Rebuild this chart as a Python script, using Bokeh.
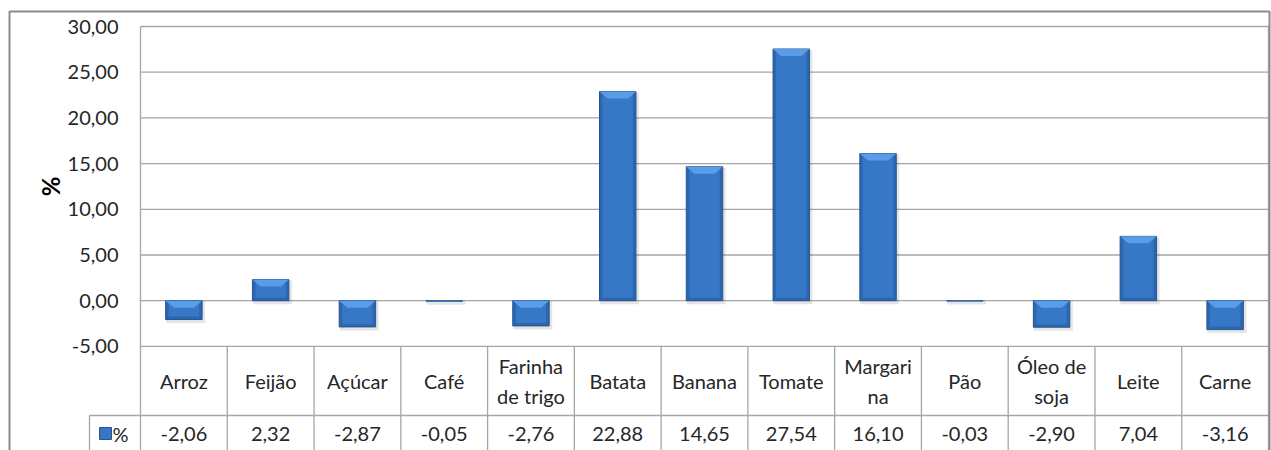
from bokeh.plotting import figure
from bokeh.models import Range1d, LinearAxis, FixedTicker, CustomJSTickFormatter
from bokeh.core.properties import value
from bokeh.embed import file_html
from bokeh.resources import INLINE

# ---------------- data ----------------
categories = ["Arroz", "Feijão", "Açúcar", "Café", "Farinha\nde trigo", "Batata", "Banana",
              "Tomate", "Margari\nna", "Pão", "Óleo de\nsoja", "Leite", "Carne"]
values = [-2.06, 2.32, -2.87, -0.05, -2.76, 22.88, 14.65, 27.54, 16.10, -0.03, -2.90, 7.04, -3.16]
y_ticks = [-5, 0, 5, 10, 15, 20, 25, 30]
series_name = "%"

# ---------------- geometry (pixels on canvas) ----------------
W, H = 1271, 450
plot_left_px, plot_right_px = 140, 1268
top_px = 26
ncat = len(categories)
xs = (plot_right_px - plot_left_px) / ncat      # px per category
ypx = 45.7 / 5                                   # px per y unit
x_start = -plot_left_px / xs
x_end = ncat + (W - plot_right_px) / xs
y_max, y_min = max(y_ticks), min(y_ticks)
y_end = y_max + top_px / ypx
y_start = y_max - (H - top_px) / ypx
row_split = y_max - (415 - top_px) / ypx
val_row_center = y_max - (433 - top_px) / ypx
cat_row_center = (y_min + row_split) / 2
key_left = -(plot_left_px - 89) / xs

FONT = "Lato"
TXT = "#262626"
GRID = "#a6a6a6"

p = figure(width=W, height=H, output_backend="svg", toolbar_location=None,
           x_range=Range1d(x_start, x_end), y_range=Range1d(y_start, y_end),
           min_border=0, min_border_left=0, min_border_right=0,
           min_border_top=0, min_border_bottom=0,
           x_axis_type=None, y_axis_type=None)
p.outline_line_color = None
p.xgrid.visible = False
p.ygrid.visible = False
p.background_fill_color = "white"
p.border_fill_color = "white"

# y axis placed at the left edge of the plot area
yaxis = LinearAxis(fixed_location=0, ticker=FixedTicker(ticks=y_ticks),
                   formatter=CustomJSTickFormatter(code="return tick.toFixed(2).replace('.', ',');"),
                   bounds=(y_min, y_max))
yaxis.axis_line_color = None
yaxis.major_tick_line_color = None
yaxis.minor_tick_line_color = None
yaxis.major_tick_out = 0
yaxis.major_tick_in = 0
yaxis.major_label_standoff = 22
yaxis.major_label_text_font = FONT
yaxis.major_label_text_font_size = "20px"
yaxis.major_label_text_color = TXT
yaxis.axis_label = series_name
yaxis.axis_label_text_font = FONT
yaxis.axis_label_text_font_size = "24px"
yaxis.axis_label_text_font_style = "bold"
yaxis.axis_label_text_color = "#000000"
yaxis.axis_label_standoff = 0
p.add_layout(yaxis, "left")

# gridlines
p.segment(x0=0, x1=ncat, y0=y_ticks, y1=y_ticks, line_color=GRID, line_width=1.3)

# bars
centers = [i + 0.5 for i in range(ncat)]
bw = 0.42
sh = 3.5 / ypx
p.vbar(x=[c + 0.02 for c in centers], width=bw + 0.03,
       top=[min(v, 0) - sh if v < 0 else v - sh * 0.3 for v in values],
       bottom=[-sh if v >= 0 else 0 for v in values],
       fill_color="#000000", fill_alpha=0.10, line_color=None)
p.vbar(x=centers, width=bw, top=values, bottom=0,
       fill_color="#2d66b0", line_color="#26558f", line_width=1)
inset_v = 3 / ypx
p.vbar(x=centers, width=bw - 6 / xs,
       top=[max(v, 0) - min(inset_v, abs(v) / 2) for v in values],
       bottom=[min(v, 0) + min(inset_v, abs(v) / 2) for v in values],
       fill_color="#3677c6", line_color=None)
band_h = 7 / ypx
d = 8 / xs
band_xs, band_ys = [], []
for c, v in zip(centers, values):
    yt = max(v, 0)
    h = min(band_h, abs(v))
    band_xs.append([c - bw / 2, c + bw / 2, c + bw / 2 - d, c - bw / 2 + d])
    band_ys.append([yt, yt, yt - h, yt - h])
p.patches(xs=band_xs, ys=band_ys, fill_color="#5b9ce8", line_color=None)

# plot area + table lines
p.segment(x0=[0, ncat], x1=[0, ncat], y0=[y_max, y_max], y1=[y_start - 1, y_start - 1],
          line_color=GRID, line_width=1.3)
p.segment(x0=list(range(1, ncat)), x1=list(range(1, ncat)),
          y0=[y_min] * (ncat - 1), y1=[y_start - 1] * (ncat - 1),
          line_color=GRID, line_width=1.3)
p.segment(x0=[key_left], x1=[ncat], y0=[row_split], y1=[row_split], line_color=GRID, line_width=1.3)
p.segment(x0=[key_left], x1=[key_left], y0=[row_split], y1=[y_start - 1], line_color=GRID, line_width=1.3)

# table text
p.text(x=centers, y=[cat_row_center] * ncat, text=categories,
       text_align="center", text_baseline="middle", text_font=value(FONT),
       text_font_size="20px", text_color=TXT, text_line_height=1.22)
labels = [f"{v:.2f}".replace(".", ",") for v in values]
p.text(x=centers, y=[val_row_center] * ncat, text=labels,
       text_align="center", text_baseline="middle", text_font=value(FONT),
       text_font_size="20px", text_color=TXT)

# legend key in the table
key_x = key_left + 16 / xs
p.scatter(x=[key_x], y=[val_row_center], marker="square", size=12,
          fill_color="#3677c6", line_color="#26558f")
p.text(x=[key_x + 7 / xs], y=[val_row_center], text=[series_name],
       text_align="left", text_baseline="middle", text_font=value(FONT),
       text_font_size="20px", text_color=TXT)

# outer chart border
p.quad(left=[x_start + 9 / xs], right=[x_end - 2 / xs], top=[y_end - 11 / ypx],
       bottom=[y_start - 5], fill_color=None, line_color="#8c8c8c", line_width=2)

open("out.html", "w").write(file_html(p, INLINE))
